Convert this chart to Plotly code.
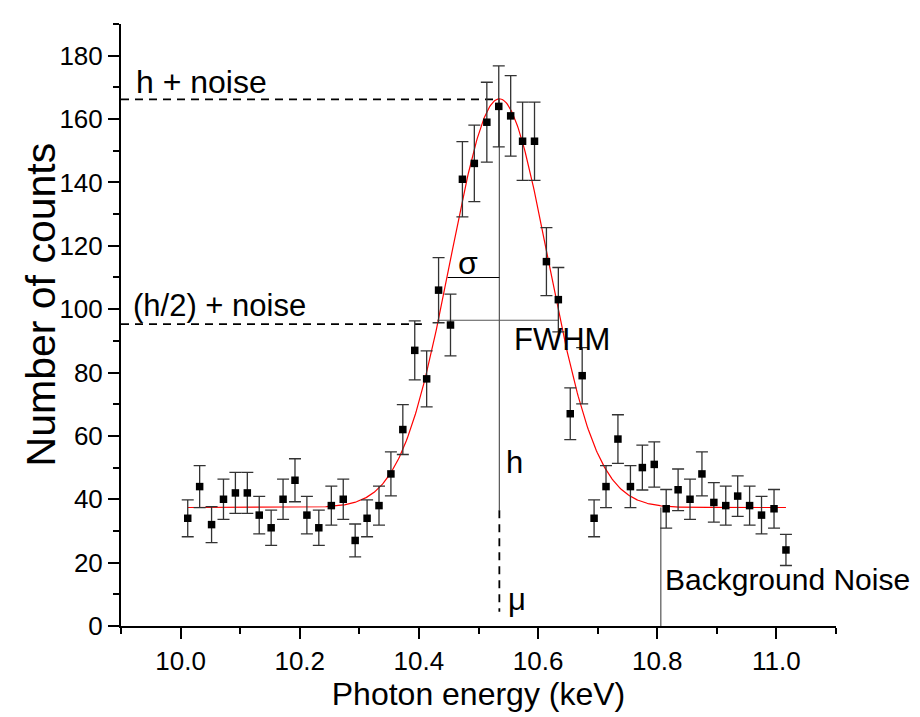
import numpy as np
import plotly.graph_objects as go

# ---- data ----
energy_keV = [10.012, 10.032, 10.052, 10.072, 10.092, 10.112, 10.132, 10.152, 10.172, 10.192,
              10.212, 10.232, 10.253, 10.273, 10.293, 10.313, 10.333, 10.353, 10.373, 10.393,
              10.413, 10.433, 10.453, 10.473, 10.493, 10.514, 10.534, 10.554, 10.574, 10.594,
              10.614, 10.634, 10.654, 10.674, 10.694, 10.714, 10.734, 10.755, 10.775, 10.795,
              10.815, 10.835, 10.855, 10.875, 10.895, 10.915, 10.935, 10.955, 10.975, 10.996,
              11.016]
counts = [34, 44, 32, 40, 42, 42, 35, 31, 40, 46,
          35, 31, 38, 40, 27, 34, 38, 48, 62, 87,
          78, 106, 95, 141, 146, 159, 164, 161, 153, 153,
          115, 103, 67, 79, 34, 44, 59, 44, 50, 51,
          37, 43, 40, 48, 39, 38, 41, 38, 35, 37,
          24]
# Poisson error bars: sqrt(counts)
count_errors = [c ** 0.5 for c in counts]

# Gaussian fit parameters
fit_baseline = 37.4
fit_height = 129.0
fit_center = 10.535
fit_sigma = 0.082
fit_range = [10.012, 11.016]

# annotation levels
h_noise_level = 166.2
half_noise_level = 95.3
sigma_level = 110.0
fwhm_level = 96.5
fwhm_edges = [10.431, 10.635]
sigma_start = 10.448
background_x = 10.806

x_ticks = [10.0, 10.2, 10.4, 10.6, 10.8, 11.0]
x_tick_labels = ["10.0", "10.2", "10.4", "10.6", "10.8", "11.0"]
y_ticks = [0, 20, 40, 60, 80, 100, 120, 140, 160, 180]
y_tick_labels = ["0", "20", "40", "60", "80", "100", "120", "140", "160", "180"]

FONT = "Liberation Sans, Arial, sans-serif"

fit_x = np.linspace(fit_range[0], fit_range[1], 600)
fit_y = fit_baseline + fit_height * np.exp(-0.5 * ((fit_x - fit_center) / fit_sigma) ** 2)

fig = go.Figure()
fig.add_trace(go.Scatter(
    x=fit_x, y=fit_y, mode="lines",
    line=dict(color="#ff0000", width=1.2),
    hoverinfo="skip", showlegend=False,
))
fig.add_trace(go.Scatter(
    x=energy_keV, y=counts, mode="markers",
    marker=dict(symbol="square", size=7.5, color="black"),
    error_y=dict(type="data", array=count_errors, visible=True,
                 color="#333333", thickness=1.3, width=6),
    showlegend=False,
))

DASH = dict(color="black", width=1.8, dash="8px,6px")
shapes = [
    dict(type="line", x0=9.9, x1=fit_center, y0=h_noise_level, y1=h_noise_level, line=DASH),
    dict(type="line", x0=9.9, x1=10.405, y0=half_noise_level, y1=half_noise_level, line=DASH),
    dict(type="line", x0=fit_center, x1=fit_center, y0=h_noise_level, y1=36.5, line=dict(color="#555555", width=1.2)),
    dict(type="line", x0=fit_center, x1=fit_center, y0=36.5, y1=4.5, line=DASH),
    dict(type="line", x0=sigma_start, x1=fit_center, y0=sigma_level, y1=sigma_level, line=dict(color="black", width=1.1)),
    dict(type="line", x0=fwhm_edges[0], x1=fwhm_edges[1], y0=fwhm_level, y1=fwhm_level, line=dict(color="#555555", width=1.2)),
    dict(type="line", x0=background_x, x1=background_x, y0=0, y1=fit_baseline, line=dict(color="#555555", width=1.2)),
]
for s in shapes:
    s["xref"] = "x"
    s["yref"] = "y"
    s["layer"] = "below"

def note(text, x, y, size=32, xanchor="left"):
    return dict(text=text, x=x, y=y, xref="x", yref="y", showarrow=False,
                xanchor=xanchor, yanchor="middle",
                font=dict(family=FONT, size=size, color="black"))

annotations = [
    note("h + noise", 9.922, 171.6, 32),
    note("(h/2) + noise", 9.916, 101.0, 31),
    note("σ", 10.483, 114.5, 32, "center"),
    note("FWHM", 10.556, 90.5, 31),
    note("h", 10.542, 51.5, 31),
    note("μ", 10.565, 8.5, 31, "center"),
    note("Background Noise", 10.809, 14.6, 30),
    # y-axis title
    dict(text="Number of counts", x=33, y=101.5, xref="paper", yref="y",
         xanchor="center", yanchor="middle", textangle=-90, showarrow=False,
         font=dict(family=FONT, size=41, color="black")),
]
# convert the title's pixel x into paper fraction (plot area starts 113 px from the left edge, 715 px wide)
annotations[-1]["x"] = (33 - 113) / 715.0

fig.update_layout(
    width=920, height=717,
    margin=dict(l=113, r=92, t=16, b=99),
    plot_bgcolor="white", paper_bgcolor="white",
    shapes=shapes, annotations=annotations,
    font=dict(family=FONT, color="black"),
    xaxis=dict(
        range=[9.9, 11.1], showgrid=False, zeroline=False, automargin=False,
        showline=True, linecolor="black", linewidth=2,
        ticks="outside", ticklen=11, tickwidth=2, tickcolor="black",
        tickvals=x_ticks, ticktext=x_tick_labels,
        tickfont=dict(family=FONT, size=26, color="black"),
        minor=dict(tickvals=[9.9, 10.1, 10.3, 10.5, 10.7, 10.9, 11.1], ticks="outside", ticklen=6, tickwidth=2, tickcolor="black"),
        title=dict(text="Photon energy (keV)", font=dict(family=FONT, size=32, color="black"), standoff=6),
    ),
    yaxis=dict(
        range=[0, 190], showgrid=False, zeroline=False, automargin=False,
        showline=True, linecolor="black", linewidth=2,
        ticks="outside", ticklen=11, tickwidth=2, tickcolor="black",
        tickvals=y_ticks, ticktext=y_tick_labels,
        tickfont=dict(family=FONT, size=26, color="black"),
        minor=dict(tickvals=[10, 30, 50, 70, 90, 110, 130, 150, 170, 190], ticks="outside", ticklen=6, tickwidth=2, tickcolor="black"),
    ),
)

fig.write_html("out.html")
